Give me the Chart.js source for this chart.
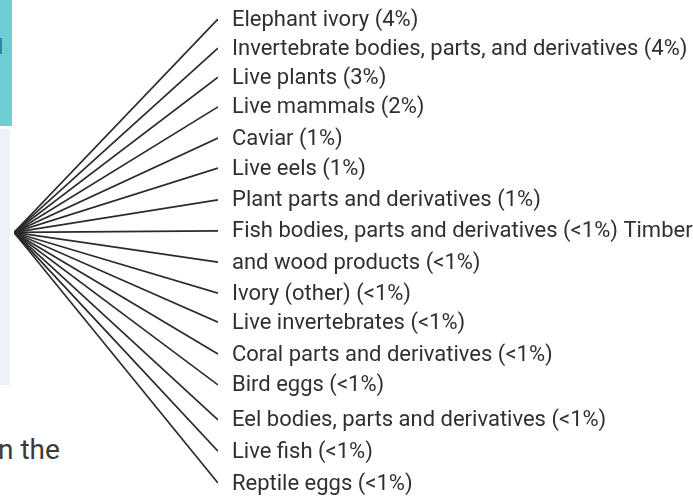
<!DOCTYPE html>
<html>
<head>
<meta charset="utf-8">
<script src="https://cdn.jsdelivr.net/npm/chart.js@4"></script>
<style>
  html, body { margin: 0; padding: 0; background: #ffffff; }
  #wrap { position: relative; width: 693px; height: 497px; overflow: hidden; }
  #teal { position: absolute; left: 0; top: 0; width: 12px; height: 126px; background: #6ccfd3; }
  #tealmark { position: absolute; left: 0; top: 38px; width: 2px; height: 16px; background: #3a7fa8; }
  #gray { position: absolute; left: 0; top: 129px; width: 10px; height: 256px; background: #eef1f7; }
  #frag { position: absolute; left: -2px; top: 434px; font-family: Roboto, "Open Sans", sans-serif; font-size: 28px; line-height: 32px; color: #3a3a3a; white-space: nowrap; }
  canvas { position: absolute; left: 0; top: 0; }
</style>
</head>
<body>
<div id="wrap">
  <div id="teal"></div>
  <div id="tealmark"></div>
  <div id="gray"></div>
  <div id="frag">n the</div>
  <canvas id="c" width="693" height="497"></canvas>
</div>
<script>
// Categories (as listed in the reference)
const categories = [
  "Elephant ivory", "Invertebrate bodies, parts, and derivatives", "Live plants",
  "Live mammals", "Caviar", "Live eels", "Plant parts and derivatives",
  "Fish bodies, parts and derivatives", "Timber and wood products", "Ivory (other)",
  "Live invertebrates", "Coral parts and derivatives", "Bird eggs",
  "Eel bodies, parts and derivatives", "Live fish", "Reptile eggs"
];
// Share labels as printed
const shares = ["4%", "4%", "3%", "2%", "1%", "1%", "1%", "<1%", "<1%", "<1%", "<1%", "<1%", "<1%", "<1%", "<1%", "<1%"];
// Text lines as they appear beside the fan (the reference wraps "Timber" onto the fish line)
const labelLines = [
  "Elephant ivory (4%)",
  "Invertebrate bodies, parts, and derivatives (4%)",
  "Live plants (3%)",
  "Live mammals (2%)",
  "Caviar (1%)",
  "Live eels (1%)",
  "Plant parts and derivatives (1%)",
  "Fish bodies, parts and derivatives (<1%) Timber",
  "and wood products (<1%)",
  "Ivory (other) (<1%)",
  "Live invertebrates (<1%)",
  "Coral parts and derivatives (<1%)",
  "Bird eggs (<1%)",
  "Eel bodies, parts and derivatives (<1%)",
  "Live fish (<1%)",
  "Reptile eggs (<1%)"
];
// Slot of each line's end (row index) and the shared origin slot
const endSlots = [0, 0.94, 1.88, 2.84, 3.85, 4.82, 5.85, 6.85, 7.86, 8.86, 9.8, 10.83, 11.83, 12.96, 13.97, 15];
const originSlot = 6.9;

const datasets = categories.map((name, i) => ({
  label: name + " (" + shares[i] + ")",
  data: [{ x: 0, y: originSlot }, { x: 1, y: endSlots[i] }],
  showLine: true,
  borderColor: "#2a2a2a",
  borderWidth: 1.7,
  pointRadius: 0,
  fill: false
}));

const labelPlugin = {
  id: "fanLabels",
  afterDatasetsDraw(chart) {
    const ctx = chart.ctx;
    const xs = chart.scales.x, ys = chart.scales.y;
    ctx.save();
    ctx.font = "22px Roboto, 'Open Sans', sans-serif";
    ctx.fillStyle = "#303030";
    ctx.textBaseline = "middle";
    ctx.textAlign = "left";
    labelLines.forEach((t, i) => {
      ctx.fillText(t, xs.getPixelForValue(1) + 14, ys.getPixelForValue(endSlots[i]) + 1);
    });
    ctx.restore();
  }
};

new Chart(document.getElementById("c"), {
  type: "scatter",
  data: { datasets },
  options: {
    responsive: false,
    animation: false,
    layout: { padding: { left: 14, right: 475, top: 19, bottom: 14 } },
    plugins: { legend: { display: false }, tooltip: { enabled: false } },
    scales: {
      x: { type: "linear", min: 0, max: 1, display: false },
      y: { type: "linear", min: 0, max: 15, reverse: true, display: false }
    }
  },
  plugins: [labelPlugin]
});
</script>
</body>
</html>
